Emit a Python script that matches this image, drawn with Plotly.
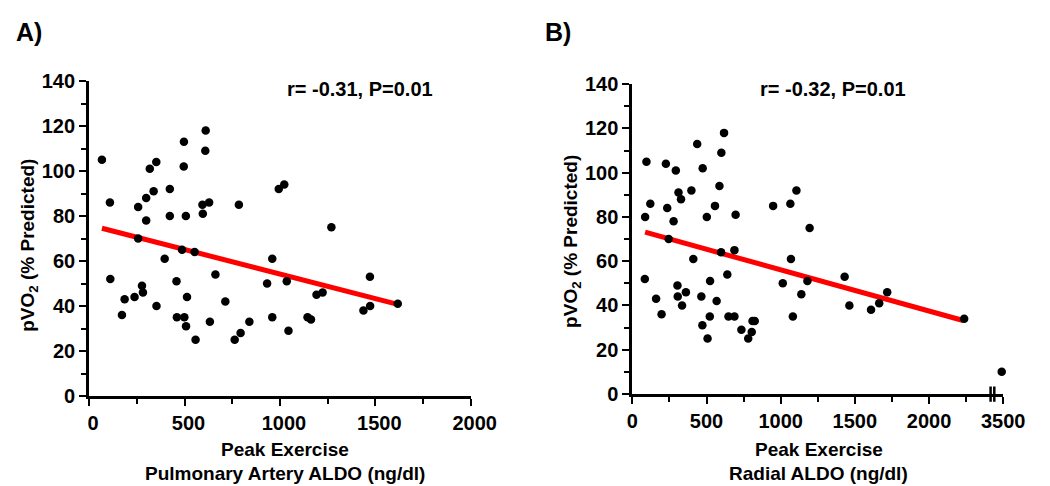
import plotly.graph_objects as go

# ---------------- data ----------------
# Panel A: Peak exercise pulmonary artery ALDO (ng/dl) vs pVO2 (% predicted)
pa_aldo = [67, 109, 257, 299, 318, 352, 338, 299, 257, 423, 423, 497, 496, 507,
           396, 487, 553, 611, 609, 594, 629, 596, 785, 994, 1023, 960, 111, 186,
           172, 238, 277, 282, 353, 458, 460, 499, 508, 513, 558, 633, 662, 714,
           763, 794, 840, 933, 960, 1036, 1045, 1192, 1224, 1145, 1163, 1472,
           1473, 1438, 1618, 1270]
pa_pvo2 = [105, 86, 84, 88, 101, 104, 91, 78, 70, 92, 80, 113, 102, 80,
           61, 65, 64, 118, 109, 85, 86, 81, 85, 92, 94, 61, 52, 43,
           36, 44, 49, 46, 40, 51, 35, 35, 31, 44, 25, 33, 54, 42,
           25, 28, 33, 50, 35, 51, 29, 45, 46, 35, 34, 53,
           40, 38, 41, 75]

# Panel B: Peak exercise radial ALDO (ng/dl) vs pVO2 (% predicted)
radial_aldo = [95, 121, 86, 226, 293, 235, 278, 311, 328, 245, 398, 437, 474, 502,
               557, 587, 618, 600, 696, 949, 1065, 1106, 1195, 84, 160, 197, 304,
               306, 335, 361, 411, 465, 472, 507, 524, 522, 568, 598, 688, 640,
               648, 688, 735, 781, 805, 810, 825, 1014, 1069, 1082, 1139, 1180,
               1431, 1463, 1609, 1664, 1718, 2237, 3490]
radial_pvo2 = [105, 86, 80, 104, 101, 84, 78, 91, 88, 70, 92, 113, 102, 80,
               85, 94, 118, 109, 81, 85, 86, 92, 75, 52, 43, 36, 49,
               44, 40, 46, 61, 44, 31, 25, 51, 35, 42, 64, 65, 54,
               35, 35, 29, 25, 28, 33, 33, 50, 61, 35, 45, 51,
               53, 40, 38, 41, 46, 34, 10]

# regression lines (end points)
fit_a_x = [67, 1618]
fit_a_y = [74.6, 40.8]
fit_b_x = [86, 2230]
fit_b_y = [73.1, 33.2]

y_ticks = [0, 20, 40, 60, 80, 100, 120, 140]
y_minor = [10, 30, 50, 70, 90, 110, 130]
x_ticks_a = [0, 500, 1000, 1500, 2000]
x_minor_a = [250, 750, 1250, 1750]
x_ticks_b = [0, 500, 1000, 1500, 2000, 3500]
x_minor_b = [250, 750, 1250, 1750, 2250]

stat_a = "r= -0.31, P=0.01"
stat_b = "r= -0.32, P=0.01"

# broken x axis in panel B: values above BREAK_AT are drawn BREAK_GAP lower
BREAK_AT = 2400
BREAK_GAP = 1000


def b_pos(v):
    return v - BREAK_GAP if v > BREAK_AT else v


W, H = 1050, 486


def px(x):
    return x / W


def py(y):
    return 1 - y / H


FONT = "Liberation Sans, Arial, sans-serif"
tickfont = dict(family=FONT, size=20, color="black", weight="bold")

fig = go.Figure()

# Panel A
fig.add_trace(go.Scatter(x=fit_a_x, y=fit_a_y, mode="lines",
                         line=dict(color="#ff0000", width=5),
                         xaxis="x", yaxis="y", showlegend=False, hoverinfo="skip"))
fig.add_trace(go.Scatter(x=pa_aldo, y=pa_pvo2, mode="markers",
                         marker=dict(color="black", size=8.5),
                         xaxis="x", yaxis="y", showlegend=False, cliponaxis=False))
# Panel B
fig.add_trace(go.Scatter(x=[b_pos(v) for v in fit_b_x], y=fit_b_y, mode="lines",
                         line=dict(color="#ff0000", width=5),
                         xaxis="x2", yaxis="y2", showlegend=False, hoverinfo="skip"))
fig.add_trace(go.Scatter(x=[b_pos(v) for v in radial_aldo], y=radial_pvo2,
                         mode="markers", marker=dict(color="black", size=8.5),
                         xaxis="x2", yaxis="y2", showlegend=False, cliponaxis=False))


def axis_style(**kw):
    d = dict(showline=True, linewidth=3, linecolor="black", mirror=False,
             ticks="outside", ticklen=7, tickwidth=2, tickcolor="black",
             showgrid=False, zeroline=False, tickfont=tickfont, fixedrange=True)
    d.update(kw)
    return d


fig.update_layout(
    width=W, height=H,
    margin=dict(l=0, r=0, t=0, b=0),
    paper_bgcolor="white", plot_bgcolor="white",
    xaxis=axis_style(domain=[px(77.5), px(471)], range=[0, 2000], anchor="y",
                     tickmode="array", tickvals=x_ticks_a,
                     ticktext=[str(v) for v in x_ticks_a], ticklabelshift=4,
                     minor=dict(ticks="outside", ticklen=5, tickwidth=2,
                                tickcolor="black", tickmode="array", tickvals=x_minor_a)),
    yaxis=axis_style(domain=[py(395), py(65)], range=[0, 140], anchor="x",
                     tickmode="array", tickvals=y_ticks,
                     minor=dict(ticks="outside", ticklen=5, tickwidth=2,
                                tickcolor="black", tickmode="array", tickvals=y_minor)),
    xaxis2=axis_style(domain=[px(637.8), px(1020.3)], range=[0, 2500], anchor="y2",
                      tickmode="array", tickvals=[b_pos(v) for v in x_ticks_b],
                      ticktext=[str(v) for v in x_ticks_b],
                      minor=dict(ticks="outside", ticklen=5, tickwidth=2,
                                 tickcolor="black", tickmode="array",
                                 tickvals=[b_pos(v) for v in x_minor_b])),
    yaxis2=axis_style(domain=[py(392.7), py(68.3)], range=[0, 140], anchor="x2",
                      tickmode="array", tickvals=y_ticks,
                      minor=dict(ticks="outside", ticklen=5, tickwidth=2,
                                 tickcolor="black", tickmode="array", tickvals=y_minor)),
)

# axis break marks on panel B x axis
for bx in (2415, 2440):
    fig.add_shape(type="line", xref="x2", yref="paper", x0=bx, x1=bx,
                  y0=py(401), y1=py(385), line=dict(color="black", width=2.5))

ann_font = dict(family=FONT, size=20, color="black")
title_font = dict(family=FONT, size=19, color="black")
label_font = dict(family=FONT, size=25, color="black")
annotations = [
    dict(text="<b>A)</b>", x=px(15), y=py(14), xanchor="center", yanchor="middle",
         font=label_font),
    dict(text="<b>B)</b>", x=px(561), y=py(14), xanchor="center", yanchor="middle",
         font=label_font),
    dict(text="<b>" + stat_a + "</b>", x=px(357), y=py(73), xanchor="center",
         yanchor="middle", font=ann_font),
    dict(text="<b>" + stat_b + "</b>", x=px(845), y=py(73), xanchor="center",
         yanchor="middle", font=ann_font),
    dict(text="<b>pVO<sub>2</sub> (% Predicted)</b>", x=px(16), y=py(237),
         textangle=-90, xanchor="center", yanchor="middle", font=title_font),
    dict(text="<b>pVO<sub>2</sub> (% Predicted)</b>", x=px(576), y=py(233),
         textangle=-90, xanchor="center", yanchor="middle", font=title_font),
    dict(text="<b>Peak Exercise</b>", x=px(280), y=py(451), xanchor="center",
         yanchor="middle", font=title_font),
    dict(text="<b>Pulmonary Artery ALDO (ng/dl)</b>", x=px(280), y=py(476),
         xanchor="center", yanchor="middle", font=title_font),
    dict(text="<b>Peak Exercise</b>", x=px(830), y=py(451), xanchor="center",
         yanchor="middle", font=title_font),
    dict(text="<b>Radial ALDO (ng/dl)</b>", x=px(830), y=py(476),
         xanchor="center", yanchor="middle", font=title_font),
]
for a in annotations:
    a.update(xref="paper", yref="paper", showarrow=False)
fig.update_layout(annotations=annotations)

fig.write_html("out.html")
